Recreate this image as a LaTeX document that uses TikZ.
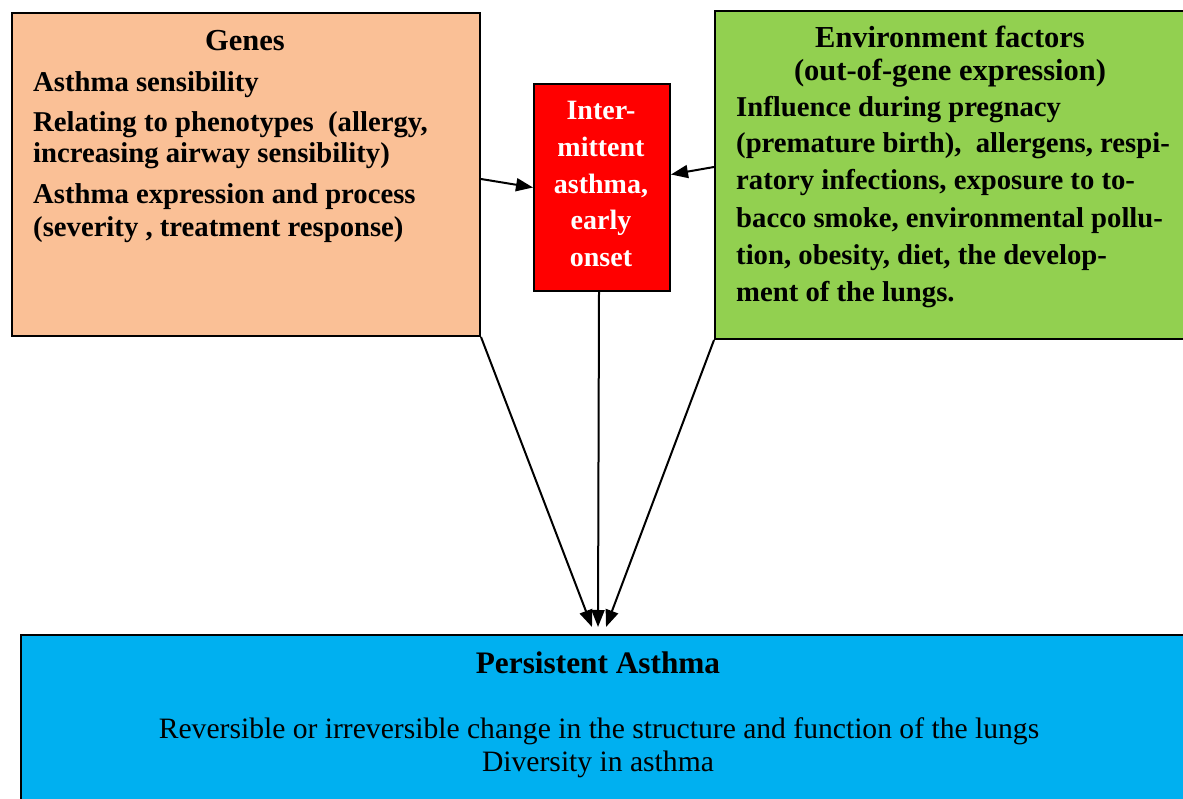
\documentclass[tikz,border=0pt]{standalone}
\usepackage{fontspec}
\setmainfont{Liberation Serif}
\usetikzlibrary{arrows.meta,calc}
\definecolor{peach}{RGB}{250,192,150}
\definecolor{envgreen}{RGB}{146,208,80}
\definecolor{boxred}{RGB}{255,0,0}
\definecolor{skyblue}{RGB}{0,176,240}
\begin{document}
\begin{tikzpicture}[x=1pt,y=-1pt,
  box/.style={draw=black, line width=2pt, rectangle, inner sep=0pt, anchor=north west},
  bodytxt/.style={font=\bfseries\fontsize{28.7}{30}\selectfont, anchor=base west, inner sep=0pt},
  titletxt/.style={font=\bfseries\fontsize{30.5}{32}\selectfont, anchor=base, inner sep=0pt},
  redtxt/.style={font=\bfseries\fontsize{28}{30}\selectfont, text=white, anchor=base, inner sep=0pt},
  bluetxt/.style={font=\fontsize{29.6}{31}\selectfont, anchor=base, inner sep=0pt},
  arr/.style={-{Triangle[length=17pt,width=13pt]}, line width=2pt}]
\useasboundingbox (0,0) rectangle (1183,799);
\clip (0,0) rectangle (1183,799);
% boxes
\node[box, fill=peach, minimum width=468, minimum height=323] (genes) at (11,12) {};
\node[box, fill=envgreen, minimum width=480, minimum height=328] (env) at (714,10) {};
\node[box, fill=boxred, minimum width=136, minimum height=207] (inter) at (533,83) {};
\node[box, fill=skyblue, minimum width=1170, minimum height=200] (persist) at (20,634) {};
% genes text
\node[titletxt] (gtitle) at (245,51) {Genes};
\node[bodytxt] (g1) at (33,92) {Asthma sensibility};
\node[bodytxt] (g2) at (33,132) {Relating to phenotypes\ \ (allergy,};
\node[bodytxt] (g3) at (33,163) {increasing airway sensibility)};
\node[bodytxt] (g4) at (33,204) {Asthma expression and process};
\node[bodytxt] (g5) at (33,237) {(severity , treatment response)};
% env text
\node[titletxt] (et1) at (950,48) {Environment factors};
\node[titletxt] (et2) at (950,81) {(out-of-gene expression)};
\node[bodytxt] (e1) at (736,117) {Influence during pregnacy};
\node[bodytxt] (e2) at (736,153) {(premature birth),\ \ allergens, respi-};
\node[bodytxt] (e3) at (736,190) {ratory infections, exposure to to-};
\node[bodytxt] (e4) at (736,228) {bacco smoke, environmental pollu-};
\node[bodytxt] (e5) at (736,265) {tion, obesity, diet, the develop-};
\node[bodytxt] (e6) at (736,302) {ment of the lungs.};
% red text
\node[redtxt] (r1) at (601,120) {Inter-};
\node[redtxt] (r2) at (601,157) {mittent};
\node[redtxt] (r3) at (601,194) {asthma,};
\node[redtxt] (r4) at (601,230) {early};
\node[redtxt] (r5) at (601,267) {onset};
% blue text
\node[titletxt, font=\bfseries\fontsize{31.3}{32}\selectfont] (p0) at (598,673) {Persistent Asthma};
\node[bluetxt] (p1) at (599,738) {Reversible or irreversible change in the structure and function of the lungs};
\node[bluetxt] (p2) at (598,771) {Diversity in asthma};
% arrow targets
\coordinate (tl) at (592,627);
\coordinate (tc) at (598,627);
\coordinate (tr) at (606,627);
% arrows
\draw[arr] ($(genes.east)+(0,4.5)$) -- (inter.west);
\draw[arr] ($(env.west)+(0,-8)$) -- ($(inter.east)+(0,-13)$);
\draw[arr] (genes.south east) -- (tl);
\draw[arr] (env.south west) -- (tr);
\draw[arr] ($(inter.south)+(-3,0)$) -- (tc);
\end{tikzpicture}
\end{document}
